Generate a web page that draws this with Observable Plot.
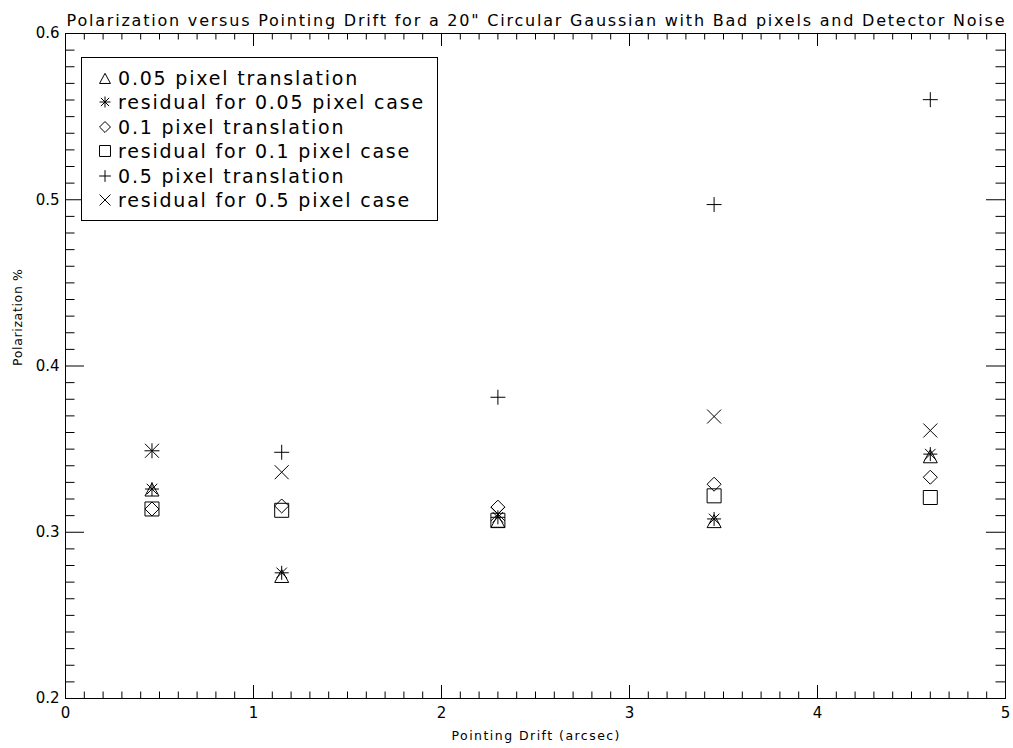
<!DOCTYPE html>
<html><head><meta charset="utf-8">
<script src="https://cdn.jsdelivr.net/npm/d3@7"></script>
<script src="https://cdn.jsdelivr.net/npm/@observablehq/plot@0.6"></script>
<style>
body{margin:0;background:#fff;}
#wrap{position:relative;width:1013px;height:748px;}
#legend{position:absolute;left:81px;top:57px;width:355px;height:162px;border:1px solid #000;background:#fff;font-family:"DejaVu Sans ExtraLight","DejaVu Sans";font-size:19px;letter-spacing:1.8px;color:#000;}
.row{position:absolute;left:0;height:24px;line-height:24px;white-space:nowrap;}
.row svg{position:absolute;left:16px;top:5px;}
.row span{position:absolute;left:36px;top:0;}
</style></head><body><div id="wrap"></div>
<script>
const titleText = 'Polarization versus Pointing Drift for a 20" Circular Gaussian with Bad pixels and Detector Noise';
const xLabelText = "Pointing Drift (arcsec)";
const yLabelText = "Polarization %";

const drift = [0.46, 1.15, 2.3, 3.45, 4.6];
const seriesNames = [
  "0.05 pixel translation",
  "residual for 0.05 pixel case",
  "0.1 pixel translation",
  "residual for 0.1 pixel case",
  "0.5 pixel translation",
  "residual for 0.5 pixel case"
];
const trans005 = [0.326, 0.274, 0.307, 0.307, 0.346];
const resid005 = [0.326, 0.2756, 0.309, 0.308, 0.347];
const trans01  = [0.314, 0.3158, 0.3151, 0.3289, 0.3331];
const resid01  = [0.314, 0.3132, 0.3072, 0.3219, 0.3209];
const trans05  = [0.349, 0.3481, 0.3812, 0.4971, 0.5602];
const resid05  = [0.349, 0.3361, 0.311, 0.3696, 0.3612];

const xMajor = [0, 1, 2, 3, 4, 5];
const xTickLabels = ["0", "1", "2", "3", "4", "5"];
const yMajor = [0.2, 0.3, 0.4, 0.5, 0.6];
const yTickLabels = ["0.2", "0.3", "0.4", "0.5", "0.6"];
const xMinor = d3.range(0, 50).map(i => i / 10).filter((v, i) => i % 10 !== 0);
const yMinor = d3.range(20, 60).map(i => i / 100).filter((v, i) => i % 10 !== 0);

const H = s => Math.sqrt(s / Math.PI);
const symbols = [
  {draw(c, s){const h=H(s); c.moveTo(-h, h); c.lineTo(0, -h*0.85); c.lineTo(h, h); c.closePath();}},
  {draw(c, s){const h=H(s), d=h*0.75; c.moveTo(0,-h); c.lineTo(0,h); c.moveTo(-h,0); c.lineTo(h,0); c.moveTo(-d,-d); c.lineTo(d,d); c.moveTo(-d,d); c.lineTo(d,-d);}},
  {draw(c, s){const h=H(s); c.moveTo(0,-h); c.lineTo(h,0); c.lineTo(0,h); c.lineTo(-h,0); c.closePath();}},
  {draw(c, s){const h=H(s); c.moveTo(-h,-h); c.lineTo(h,-h); c.lineTo(h,h); c.lineTo(-h,h); c.closePath();}},
  {draw(c, s){const h=H(s)*1.07; c.moveTo(0,-h); c.lineTo(0,h); c.moveTo(-h,0); c.lineTo(h,0);}},
  {draw(c, s){const h=H(s); c.moveTo(-h,-h); c.lineTo(h,h); c.moveTo(-h,h); c.lineTo(h,-h);}}
];
const seriesValues = [trans005, resid005, trans01, resid01, trans05, resid05];

const frameW = 940, frameH = 665;
const tickStyle = {stroke: "black", strokeWidth: 1};

const dotMarks = seriesValues.map((vals, k) =>
  Plot.dot(drift.map((x, i) => ({x, y: vals[i]})), {x: "x", y: "y", r: 7, symbol: symbols[k], fill: "none", stroke: "black", strokeWidth: 1})
);

const plot = Plot.plot({
  width: 1013, height: 748,
  marginTop: 33, marginBottom: 50, marginLeft: 65, marginRight: 8,
  x: {domain: [0, 5], axis: null},
  y: {domain: [0.2, 0.6], axis: null},
  style: {fontFamily: "'DejaVu Sans ExtraLight', 'DejaVu Sans'", background: "white", color: "black"},
  marks: [
    Plot.frame({stroke: "black"}),
    Plot.tickX(xMajor, {x: d => d, insetTop: frameH - 13, ...tickStyle}),
    Plot.tickX(xMinor, {x: d => d, insetTop: frameH - 6.5, ...tickStyle}),
    Plot.tickX(xMajor, {x: d => d, insetBottom: frameH - 13, ...tickStyle}),
    Plot.tickX(xMinor, {x: d => d, insetBottom: frameH - 6.5, ...tickStyle}),
    Plot.tickY(yMajor, {y: d => d, insetRight: frameW - 19, ...tickStyle}),
    Plot.tickY(yMinor, {y: d => d, insetRight: frameW - 9.5, ...tickStyle}),
    Plot.tickY(yMajor, {y: d => d, insetLeft: frameW - 19, ...tickStyle}),
    Plot.tickY(yMinor, {y: d => d, insetLeft: frameW - 9.5, ...tickStyle}),
    Plot.text(xMajor, {x: d => d, text: (d, i) => xTickLabels[i], frameAnchor: "bottom", dy: 19, fontSize: 15, fill: "black"}),
    Plot.text(yMajor, {y: d => d, text: (d, i) => yTickLabels[i], frameAnchor: "left", dx: -6, textAnchor: "end", fontSize: 15, fill: "black"}),
    Plot.text([titleText], {text: d => d, frameAnchor: "top", dy: -19, fontSize: 16, fill: "black"}),
    Plot.text([xLabelText], {text: d => d, frameAnchor: "bottom", dy: 41, fontSize: 12.5, fill: "black"}),
    Plot.text([yLabelText], {text: d => d, frameAnchor: "left", dx: -48, rotate: -90, fontSize: 12.5, fill: "black"}),
    ...dotMarks
  ]
});

const wrap = document.getElementById("wrap");
wrap.appendChild(plot);

// stretch the Hershey-like labels to the widths seen in the reference
const lengths = {[titleText]: 938, [xLabelText]: 168, [yLabelText]: 97};
plot.querySelectorAll("text").forEach(t => {
  const L = lengths[t.textContent];
  if (L) { t.setAttribute("textLength", L); t.setAttribute("lengthAdjust", "spacing"); }
});

// legend
const legend = document.createElement("div");
legend.id = "legend";
seriesNames.forEach((name, i) => {
  const row = document.createElement("div");
  row.className = "row";
  row.style.top = (20 + i * 24.4 - 12) + "px";
  const s = d3.create("svg").attr("width", 14).attr("height", 14);
  const p = d3.path();
  symbols[i].draw(p, Math.PI * 30);
  s.append("path").attr("transform", "translate(7,7)").attr("d", p.toString()).attr("fill", "none").attr("stroke", "black").attr("stroke-width", 1);
  row.appendChild(s.node());
  const sp = document.createElement("span");
  sp.textContent = name;
  row.appendChild(sp);
  legend.appendChild(row);
});
wrap.appendChild(legend);
</script>
</body></html>
